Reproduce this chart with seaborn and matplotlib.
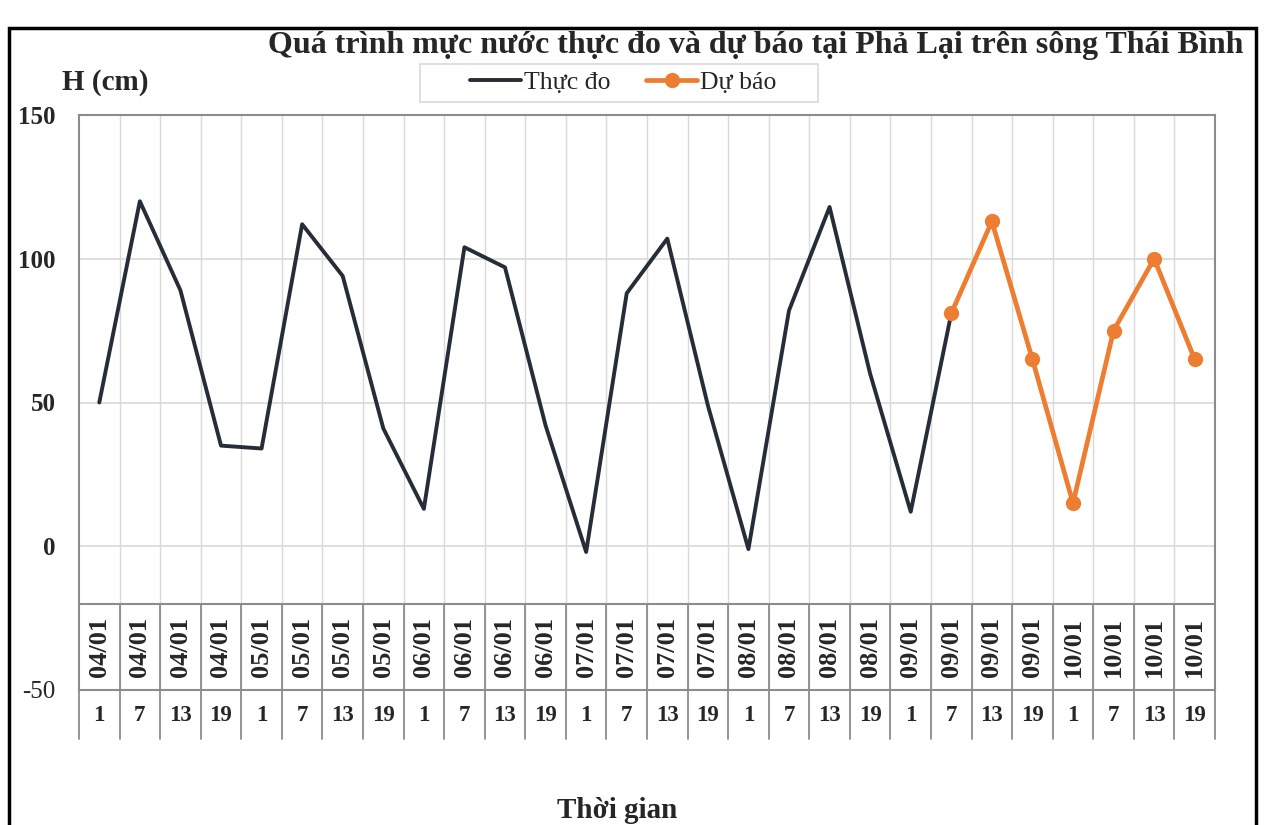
import pandas as pd
import seaborn as sns
import matplotlib.pyplot as plt
from matplotlib.patches import Rectangle
import matplotlib.transforms as mtransforms

# categories: date labels and hour labels (7 days x 4 observations)
dates = ["04/01"] * 4 + ["05/01"] * 4 + ["06/01"] * 4 + ["07/01"] * 4 + \
        ["08/01"] * 4 + ["09/01"] * 4 + ["10/01"] * 4
hours = ["1", "7", "13", "19"] * 7

# observed water level (cm), up to 09/01 7h
observed = [50, 120, 89, 35, 34, 112, 94, 41, 13, 104, 97, 42,
            -2, 88, 107, 49, -1, 82, 118, 60, 12, 81]
# forecast (cm), from 09/01 7h
forecast = [81, 113, 65, 15, 75, 100, 65]

obs_df = pd.DataFrame({"pos": range(len(observed)), "H": observed})
fc_start = len(observed) - 1
fc_df = pd.DataFrame({"pos": range(fc_start, fc_start + len(forecast)), "H": forecast})

sns.set_theme(style="white")
plt.rcParams["font.family"] = ["Liberation Serif", "DejaVu Serif"]

fig = plt.figure(figsize=(12.65, 8.25), dpi=100)

# outer chart border (drawn first so text stays on top)
fig.add_artist(Rectangle((9 / 1265, -0.05), (1256 - 9) / 1265, 1.05 - 28 / 825,
                         transform=fig.transFigure, fill=False, edgecolor="black",
                         lw=2.5, zorder=0))

ax = fig.add_axes([79 / 1265, 1 - 690 / 825, (1215 - 79) / 1265, (690 - 115) / 825])

sns.lineplot(data=obs_df, x="pos", y="H", ax=ax, color="#262d38", lw=2.8, label="Thực đo")
sns.lineplot(data=fc_df, x="pos", y="H", ax=ax, color="#ed7d31", lw=3.4, marker="o",
             markersize=11, markeredgewidth=0, label="Dự báo")

n = len(dates)
ax.set_xlim(-0.5, n - 0.5)
ax.set_ylim(-50, 150)
ax.set_xlabel("")
ax.set_ylabel("")
ax.set_xticks([])
ax.set_yticks([-50, 0, 50, 100, 150])
ax.set_yticklabels(["-50", "0", "50", "100", "150"])
ax.tick_params(axis="y", length=0, pad=17, labelsize=18)
for lab in ax.get_yticklabels()[1:]:
    lab.set_fontweight("bold")

# grid
for v in [0, 50, 100]:
    ax.axhline(v, color="#d9d9d9", lw=1.2, zorder=0)
for k in range(1, n):
    ax.axvline(k - 0.5, color="#d9d9d9", lw=1.0, zorder=0)

for s in ax.spines.values():
    s.set_color("#8c8c8c")
    s.set_linewidth(1.5)

# multi-level category axis
ax.axhline(-20, color="#8c8c8c", lw=1.5)
blend = mtransforms.blended_transform_factory(ax.transData, ax.transAxes)
for k in range(n + 1):
    ax.plot([k - 0.5, k - 0.5], [-20, -50], color="#8c8c8c", lw=1.3, clip_on=False)
    ax.plot([k - 0.5, k - 0.5], [0, -0.085], color="#8c8c8c", lw=1.3,
            transform=blend, clip_on=False)
for k in range(n):
    ax.text(k, -35, dates[k], rotation=90, ha="center", va="center",
            fontsize=19, fontweight="bold")
    ax.text(k, -0.044, hours[k], ha="center", va="center", fontsize=16.5,
            fontweight="bold", transform=blend)

ax.legend(loc="center", bbox_to_anchor=(623 / 1265, 1 - 83 / 825),
          bbox_transform=fig.transFigure, ncol=2, fontsize=18.5, frameon=False,
          handlelength=2.0, handletextpad=0.1, columnspacing=1.4)
fig.add_artist(Rectangle((420 / 1265, 1 - 102 / 825), 398 / 1265, 38 / 825,
                         transform=fig.transFigure, fill=False,
                         edgecolor="#d9d9d9", lw=1.2))

fig.text(1243 / 1265, 1 - 53 / 825,
         "Quá trình mực nước thực đo và dự báo tại Phả Lại trên sông Thái Bình",
         ha="right", va="baseline", fontsize=23, fontweight="bold")
fig.text(62 / 1265, 1 - 82 / 825, "H (cm)", ha="left", va="center",
         fontsize=21, fontweight="bold")
fig.text(617 / 1265, 1 - 810 / 825, "Thời gian", ha="center", va="center",
         fontsize=21, fontweight="bold")

fig.savefig("out.png", dpi=100)
